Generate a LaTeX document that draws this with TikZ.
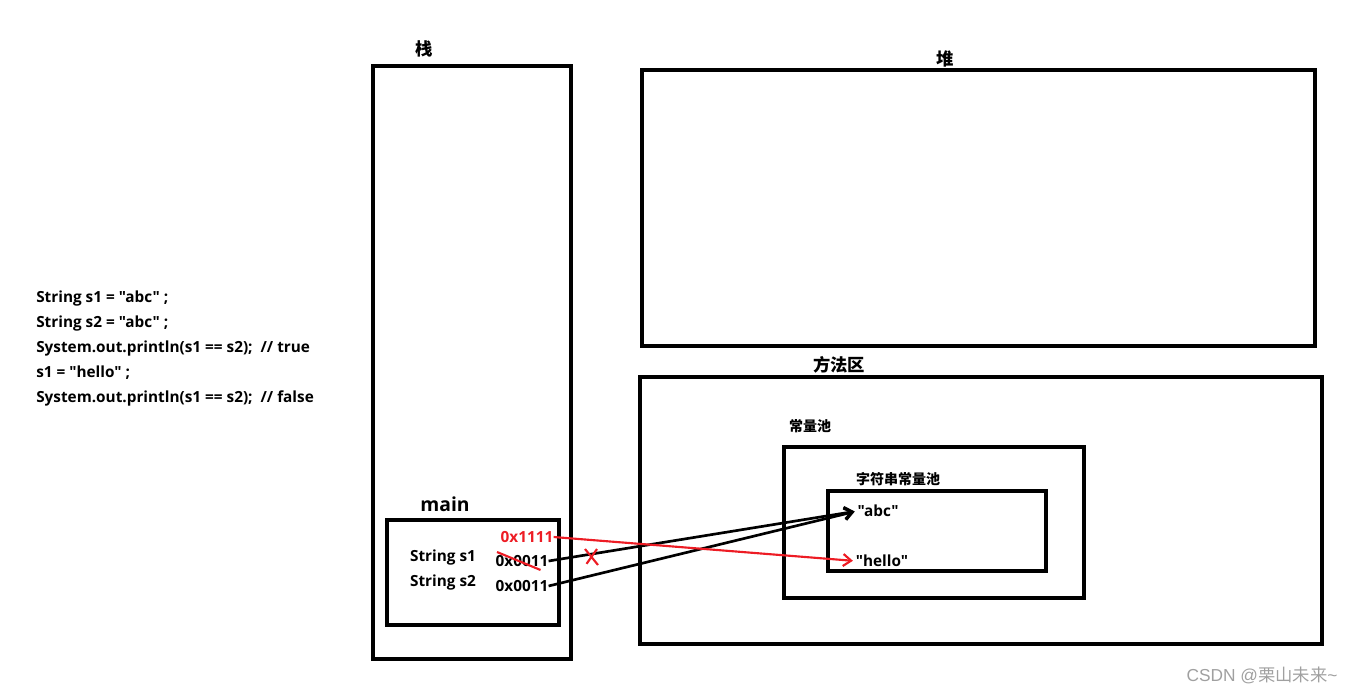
\documentclass[tikz,border=0pt]{standalone}
\usepackage{fontspec}
\setmainfont{Open Sans}[Ligatures=TeXOff]
\newfontfamily\cjk{Noto Sans CJK SC}
\newfontfamily\wmfont{Liberation Sans}
\usetikzlibrary{positioning, arrows.meta}

\definecolor{penred}{RGB}{237,28,36}
\definecolor{wmgray}{RGB}{160,160,160}

\begin{document}
\begin{tikzpicture}[x=0.75pt, y=-0.75pt, ->, auto, shorten >=2pt,
	>={Straight Barb[length=6pt, width=9pt]},
	font=\bfseries\fontsize{11.5}{13}\selectfont,
	area/.style={draw, line width=3pt, -},
	txt/.style={inner sep=0pt, anchor=base west},
	ttl/.style={inner sep=0pt, font=\cjk\bfseries\fontsize{13}{15}\selectfont},
	cn/.style={inner sep=0pt, font=\cjk\bfseries\fontsize{10.5}{13}\selectfont},
	ref/.style={line width=2pt, black},
	newref/.style={line width=1.6pt, penred}]
	\useasboundingbox (0,0) rectangle (1358,693);

	% memory areas
	\draw[area] (373,66)  rectangle (571,659);
	\draw[area] (642,70)  rectangle (1315,346);
	\draw[area] (640,377) rectangle (1322,644);
	\draw[area] (784,447) rectangle (1084,598);
	\draw[area] (828,491) rectangle (1046,571);
	\draw[area] (387,520) rectangle (559,625);

	\node[ttl] 	(stack) 	at (424,49) 	{栈};
	\node[ttl] 	(heap) 		at (945,59) 	{堆};
	\node[ttl] 	(method) 	at (839,365) 	{方法区};
	\node[cn]	(pool) 		at (810,426) 	{常量池};
	\node[cn]	(spool) 	at (898,479) 	{字符串常量池};
	\node[inner sep=0pt, font=\bfseries\fontsize{14.5}{16}\selectfont] (main) at (445,504) {main};

	% code
	\node[txt] (L1) at (36,302) 			{String s1 = "abc" ;};
	\node[txt] (L2) [below=18.75pt of L1.base west, anchor=base west] {String s2 = "abc" ;};
	\node[txt] (L3) [below=18.75pt of L2.base west, anchor=base west] {System.out.println(s1 == s2);\ \ // true};
	\node[txt] (L4) [below=18.75pt of L3.base west, anchor=base west] {s1 = "hello" ;};
	\node[txt] (L5) [below=18.75pt of L4.base west, anchor=base west] {System.out.println(s1 == s2);\ \ // false};

	% stack frame
	\node[inner sep=0pt] 				(v1) 	at (443,558) 	{String s1};
	\node[inner sep=0pt] 				(v2) 	at (443,583) 	{String s2};
	\node[inner sep=0pt, text=penred] 	(new) 	at (527,537) 	{0x1111};
	\node[inner sep=0pt] 				(old) 	at (522,561) 	{0x0011};
	\node[inner sep=0pt] 				(a2) 	at (522,586) 	{0x0011};

	% string pool
	\node[inner sep=0pt] (abc) 		at (878,511) 	{"abc"};
	\node[inner sep=0pt] (hello) 	at (882,561) 	{"hello"};

	\path
	(old.east)	edge [ref] 		(abc.west)
	(a2.east) 	edge [ref] 		(abc.west)
	(new.east) 	edge [newref] 	(hello.west)
;

	% crossed out
	\draw[-, line width=1.6pt, penred] (497,552) -- (543,571);
	\draw[-, line width=1.6pt, penred] (585,549) -- (598,565) (597,549) -- (585,566);

	\node[inner sep=0pt, text=wmgray, font=\fontsize{13}{15}\selectfont] (csdn) at (1262,675) {\wmfont CSDN @{\cjk 栗山未来}\textasciitilde};
\end{tikzpicture}
\end{document}
